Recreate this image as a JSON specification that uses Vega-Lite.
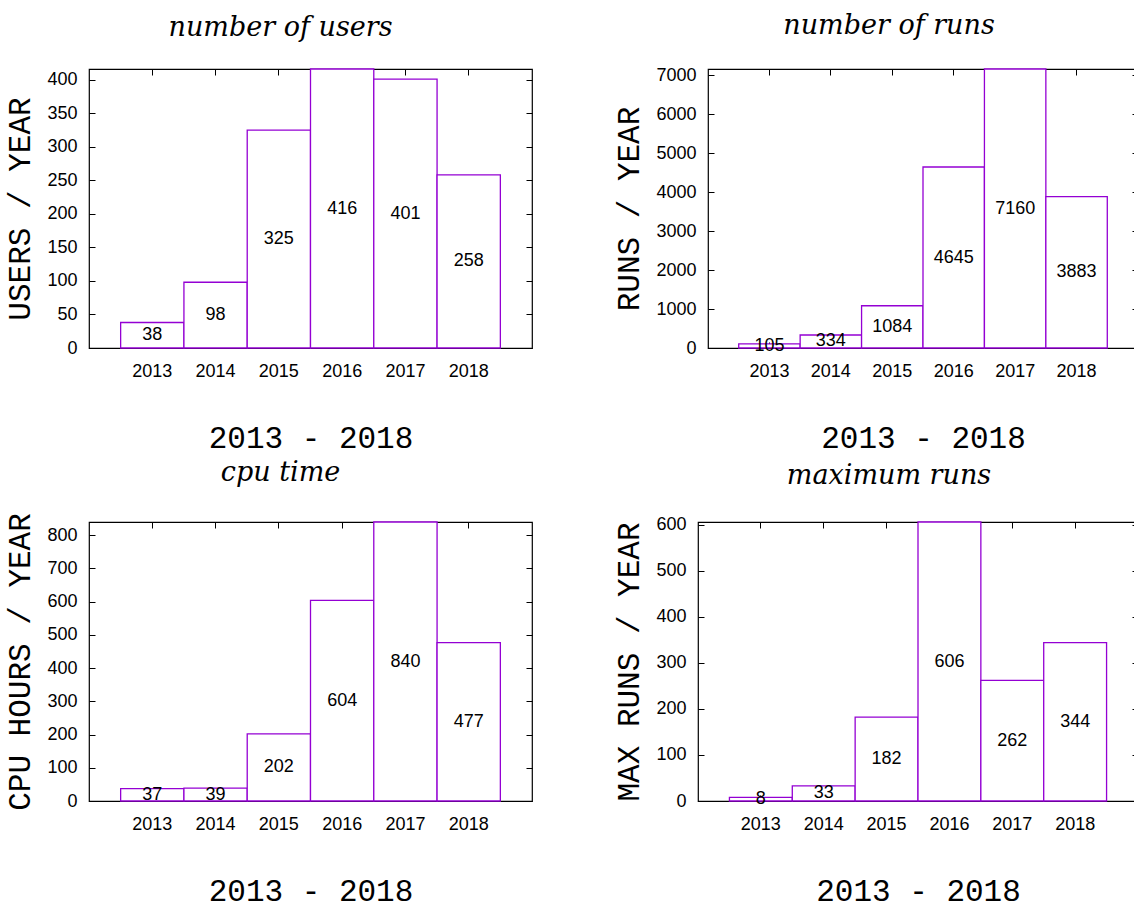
{
  "$schema": "https://vega.github.io/schema/vega-lite/v6.json",
  "padding": {"left": 4, "top": 11, "right": 0, "bottom": 0},
  "background": "white",
  "data": {"values": [
    {"year": 2013, "users": 38, "runs": 105, "cpu": 37, "maxruns": 8},
    {"year": 2014, "users": 98, "runs": 334, "cpu": 39, "maxruns": 33},
    {"year": 2015, "users": 325, "runs": 1084, "cpu": 202, "maxruns": 182},
    {"year": 2016, "users": 416, "runs": 4645, "cpu": 604, "maxruns": 606},
    {"year": 2017, "users": 401, "runs": 7160, "cpu": 840, "maxruns": 262},
    {"year": 2018, "users": 258, "runs": 3883, "cpu": 477, "maxruns": 344}
  ]},
  "vconcat": [
    {"hconcat": [
      {
        "width": 443, "height": 279,
        "title": {"text": "number of users", "dx": -30},
        "layer": [
          {"mark": {"type": "bar", "fill": "white", "stroke": "#9400d3", "strokeWidth": 1.3},
           "encoding": {
             "x": {"field": "year", "type": "ordinal", "scale": {"paddingInner": 0, "paddingOuter": 0.5}, "axis": {"title": "2013 - 2018"}},
             "y": {"field": "users", "type": "quantitative", "scale": {"domain": [0, 416], "nice": false}, "axis": {"title": "USERS / YEAR", "values": [0, 50, 100, 150, 200, 250, 300, 350, 400], "format": "d"}}}},
          {"mark": {"type": "text", "fontSize": 18, "font": "Liberation Sans", "color": "black"},
           "encoding": {
             "x": {"field": "year", "type": "ordinal", "axis": null},
             "y": {"field": "users", "type": "quantitative", "scale": {"domain": [0, 832], "nice": false}, "axis": null},
             "text": {"field": "users"}}},
          {"mark": {"type": "bar", "opacity": 0},
           "encoding": {
             "x": {"field": "year", "type": "ordinal", "axis": {"orient": "top", "labels": false, "title": null}},
             "y": {"field": "users", "type": "quantitative", "scale": {"domain": [0, 416], "nice": false}, "axis": {"orient": "right", "labels": false, "title": null, "values": [0, 50, 100, 150, 200, 250, 300, 350, 400]}}}}
        ],
        "resolve": {"scale": {"y": "independent"}, "axis": {"x": "independent", "y": "independent"}}
      },
      {
        "width": 430, "height": 279,
        "title": {"text": "number of runs", "dx": -34},
        "layer": [
          {"mark": {"type": "bar", "fill": "white", "stroke": "#9400d3", "strokeWidth": 1.3},
           "encoding": {
             "x": {"field": "year", "type": "ordinal", "scale": {"paddingInner": 0, "paddingOuter": 0.5}, "axis": {"title": "2013 - 2018"}},
             "y": {"field": "runs", "type": "quantitative", "scale": {"domain": [0, 7160], "nice": false}, "axis": {"title": "RUNS / YEAR", "values": [0, 1000, 2000, 3000, 4000, 5000, 6000, 7000], "format": "d"}}}},
          {"mark": {"type": "text", "fontSize": 18, "font": "Liberation Sans", "color": "black"},
           "encoding": {
             "x": {"field": "year", "type": "ordinal", "axis": null},
             "y": {"field": "runs", "type": "quantitative", "scale": {"domain": [0, 14320], "nice": false}, "axis": null},
             "text": {"field": "runs"}}},
          {"mark": {"type": "bar", "opacity": 0},
           "encoding": {
             "x": {"field": "year", "type": "ordinal", "axis": {"orient": "top", "labels": false, "title": null}},
             "y": {"field": "runs", "type": "quantitative", "scale": {"domain": [0, 7160], "nice": false}, "axis": {"orient": "right", "labels": false, "title": null, "values": [0, 1000, 2000, 3000, 4000, 5000, 6000, 7000]}}}}
        ],
        "resolve": {"scale": {"y": "independent"}, "axis": {"x": "independent", "y": "independent"}}
      }
    ]},
    {"hconcat": [
      {
        "width": 443, "height": 279,
        "title": {"text": "cpu time", "dx": -30},
        "layer": [
          {"mark": {"type": "bar", "fill": "white", "stroke": "#9400d3", "strokeWidth": 1.3},
           "encoding": {
             "x": {"field": "year", "type": "ordinal", "scale": {"paddingInner": 0, "paddingOuter": 0.5}, "axis": {"title": "2013 - 2018"}},
             "y": {"field": "cpu", "type": "quantitative", "scale": {"domain": [0, 840], "nice": false}, "axis": {"title": "CPU HOURS / YEAR", "values": [0, 100, 200, 300, 400, 500, 600, 700, 800], "format": "d"}}}},
          {"mark": {"type": "text", "fontSize": 18, "font": "Liberation Sans", "color": "black"},
           "encoding": {
             "x": {"field": "year", "type": "ordinal", "axis": null},
             "y": {"field": "cpu", "type": "quantitative", "scale": {"domain": [0, 1680], "nice": false}, "axis": null},
             "text": {"field": "cpu"}}},
          {"mark": {"type": "bar", "opacity": 0},
           "encoding": {
             "x": {"field": "year", "type": "ordinal", "axis": {"orient": "top", "labels": false, "title": null}},
             "y": {"field": "cpu", "type": "quantitative", "scale": {"domain": [0, 840], "nice": false}, "axis": {"orient": "right", "labels": false, "title": null, "values": [0, 100, 200, 300, 400, 500, 600, 700, 800]}}}}
        ],
        "resolve": {"scale": {"y": "independent"}, "axis": {"x": "independent", "y": "independent"}}
      },
      {
        "width": 440, "height": 279,
        "title": {"text": "maximum runs", "dx": -29},
        "layer": [
          {"mark": {"type": "bar", "fill": "white", "stroke": "#9400d3", "strokeWidth": 1.3},
           "encoding": {
             "x": {"field": "year", "type": "ordinal", "scale": {"paddingInner": 0, "paddingOuter": 0.5}, "axis": {"title": "2013 - 2018"}},
             "y": {"field": "maxruns", "type": "quantitative", "scale": {"domain": [0, 606], "nice": false}, "axis": {"title": "MAX RUNS / YEAR", "values": [0, 100, 200, 300, 400, 500, 600], "format": "d"}}}},
          {"mark": {"type": "text", "fontSize": 18, "font": "Liberation Sans", "color": "black"},
           "encoding": {
             "x": {"field": "year", "type": "ordinal", "axis": null},
             "y": {"field": "maxruns", "type": "quantitative", "scale": {"domain": [0, 1212], "nice": false}, "axis": null},
             "text": {"field": "maxruns"}}},
          {"mark": {"type": "bar", "opacity": 0},
           "encoding": {
             "x": {"field": "year", "type": "ordinal", "axis": {"orient": "top", "labels": false, "title": null}},
             "y": {"field": "maxruns", "type": "quantitative", "scale": {"domain": [0, 606], "nice": false}, "axis": {"orient": "right", "labels": false, "title": null, "values": [0, 100, 200, 300, 400, 500, 600]}}}}
        ],
        "resolve": {"scale": {"y": "independent"}, "axis": {"x": "independent", "y": "independent"}}
      }
    ]}
  ],
  "spacing": 4,
  "config": {
    "concat": {"spacing": 79},
    "view": {"stroke": "black", "strokeWidth": 1.2},
    "axis": {
      "grid": false, "domain": false, "tickSize": -6, "tickColor": "#000", "tickWidth": 1,
      "labelFont": "Liberation Sans", "labelFontSize": 18, "labelColor": "#000",
      "titleFont": "Liberation Mono", "titleFontSize": 31, "titleFontWeight": "normal", "titleColor": "#000"
    },
    "axisY": {"labelPadding": 18, "titlePadding": 10},
    "axisX": {"labelPadding": 20, "titlePadding": 43, "labelAngle": 0},
    "title": {"font": "DejaVu Serif", "fontStyle": "italic", "fontSize": 27, "fontWeight": "normal", "color": "#000", "offset": 26}
  }
}
